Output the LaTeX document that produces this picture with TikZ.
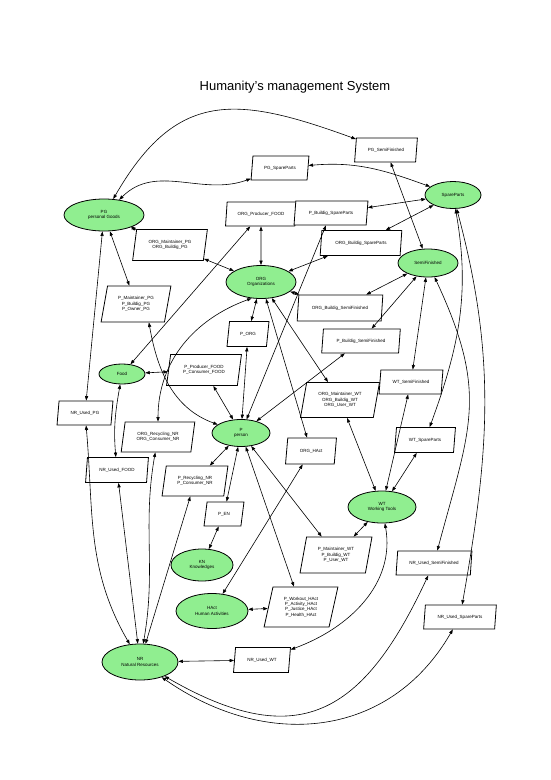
\documentclass[tikz,border=0pt]{standalone}
\usepackage{fontspec}
\setmainfont{Liberation Sans}
\usetikzlibrary{shapes, arrows.meta, positioning}
\definecolor{entgreen}{RGB}{144,238,144}
\tikzstyle{entity} = [draw, fill=entgreen, ellipse, line width=0.8pt, inner sep=0pt, align=center, font=\fontsize{4.5}{5.4}\selectfont]
\tikzstyle{relation} = [draw, fill=white, trapezium, trapezium left angle=75, trapezium right angle=105, trapezium stretches=true, line width=0.8pt, inner sep=0pt, align=center, font=\fontsize{4.5}{5.4}\selectfont]
\tikzstyle{link} = [{Triangle[length=4.5pt,width=3.2pt]}-{Triangle[length=4.5pt,width=3.2pt]}, line width=0.6pt]

\begin{document}
\begin{tikzpicture}[x=1pt, y=-1pt]
	\fill[white] (0,0) rectangle (551,780);
	\useasboundingbox (0,0) rectangle (551,780);
	\node[font=\fontsize{13}{15}\selectfont] (title) at (295,87) {Humanity's management System};
	% entities
	\node [entity, minimum width=80, minimum height=32] (PG) at (104,215) {PG\\personal Goods};
	\node [entity, minimum width=56, minimum height=27] (SP) at (453,195) {SpareParts};
	\node [entity, minimum width=60, minimum height=28] (SF) at (428,263) {SemiFinished};
	\node [entity, minimum width=70, minimum height=33] (ORG) at (261,282) {ORG\\Organizations};
	\node [entity, minimum width=46, minimum height=20] (FOOD) at (122,374) {Food};
	\node [entity, minimum width=58, minimum height=27] (P) at (241,433) {P\\person};
	\node [entity, minimum width=68, minimum height=32] (WT) at (382,507) {WT\\Working Tools};
	\node [entity, minimum width=62, minimum height=32] (KN) at (202,565) {KN\\Knowledges};
	\node [entity, minimum width=72, minimum height=35] (HACT) at (212,611) {HAct\\Human Activities};
	\node [entity, minimum width=76, minimum height=36] (NR) at (140,662) {NR\\Natural Resources};
	% relations
	\node [relation, minimum width=63, minimum height=24] (pgsf) at (386,150) {PG\_SemiFinished};
	\node [relation, minimum width=58, minimum height=24] (pgsp) at (280,168) {PG\_SpareParts};
	\node [relation, minimum width=71, minimum height=24] (orgfood) at (261,214) {ORG\_Producer\_FOOD};
	\node [relation, minimum width=74, minimum height=24] (pbsp) at (331,213) {P\_Buildig\_SpareParts};
	\node [relation, minimum width=75, minimum height=31] (orgpg) at (170,245) {ORG\_Maintainer\_PG\\ORG\_Buildig\_PG};
	\node [relation, minimum width=82, minimum height=25] (orgbsp) at (361,243) {ORG\_Buildig\_SpareParts};
	\node [relation, minimum width=70, minimum height=36] (ppg) at (136,304) {P\_Maintainer\_PG\\P\_Buildig\_PG\\P\_Owner\_PG};
	\node [relation, minimum width=86, minimum height=26] (orgbsf) at (340,308) {ORG\_Buildig\_SemiFinished};
	\node [relation, minimum width=79, minimum height=24] (pbsf) at (361,341) {P\_Buildig\_SemiFinished};
	\node [relation, minimum width=42, minimum height=25] (porg) at (248,334) {P\_ORG};
	\node [relation, minimum width=75, minimum height=31] (pfood) at (204,370) {P\_Producer\_FOOD\\P\_Consumer\_FOOD};
	\node [relation, minimum width=56, minimum height=24] (nrpg) at (85,413) {NR\_Used\_PG};
	\node [relation, minimum width=74, minimum height=30] (orgnr) at (158,437) {ORG\_Recycling\_NR\\ORG\_Consumer\_NR};
	\node [relation, minimum width=63, minimum height=25] (nrfood) at (117,470) {NR\_Used\_FOOD};
	\node [relation, minimum width=66, minimum height=30] (pnr) at (195,481) {P\_Recycling\_NR\\P\_Consumer\_NR};
	\node [relation, minimum width=79, minimum height=35] (orgwt) at (340,400) {ORG\_Maintainer\_WT\\ORG\_Buildig\_WT\\ORG\_User\_WT};
	\node [relation, minimum width=64, minimum height=24] (wtsf) at (411,382) {WT\_SemiFinished};
	\node [relation, minimum width=61, minimum height=25] (wtsp) at (425,440) {WT\_SpareParts};
	\node [relation, minimum width=51, minimum height=26] (orghact) at (311,451) {ORG\_HAct};
	\node [relation, minimum width=40, minimum height=24] (pen) at (224,514) {P\_EN};
	\node [relation, minimum width=72, minimum height=36] (pwt) at (336,555) {P\_Maintainer\_WT\\P\_Buildig\_WT\\P\_User\_WT};
	\node [relation, minimum width=76, minimum height=24] (nrsf) at (434,563) {NR\_Used\_SemiFinished};
	\node [relation, minimum width=73, minimum height=24] (nrsp) at (460,617) {NR\_Used\_SpareParts};
	\node [relation, minimum width=74, minimum height=40] (phact) at (301,607) {P\_Workout\_HAct\\P\_Activity\_HAct\\P\_Justice\_HAct\\P\_Health\_HAct};
	\node [relation, minimum width=57, minimum height=25] (nrwt) at (262,660) {NR\_Used\_WT};
	% connectors
	\draw [link] (PG) to[out=60, in=160, looseness=1.3] (pgsf);
	\draw [link] (PG) to[out=45, in=200] (pgsp);
	\draw [link] (pgsp) to[out=5, in=160] (SP);
	\draw [link] (pgsf) -- (SF);
	\draw [link] (orgfood) -- (ORG);
	\draw [link] (FOOD) -- (orgfood);
	\draw [link] (PG) -- (orgpg);
	\draw [link] (orgpg) -- (ORG);
	\draw [link] (PG) -- (ppg);
	\draw [link] (ppg.-55) to[out=-80, in=160] (P);
	\draw [link] (ORG.240) to[out=200, in=90] (orgnr);
	\draw [link] (P) -- (pbsp);
	\draw [link] (pbsp) -- (SP);
	\draw [link] (orgbsp) -- (ORG);
	\draw [link] (orgbsp) -- (SP);
	\draw [link] (ORG) -- (orgbsf);
	\draw [link] (orgbsf) -- (SF);
	\draw [link] (P) -- (pbsf);
	\draw [link] (pbsf) -- (SF);
	\draw [link] (porg) -- (ORG);
	\draw [link] (P) -- (porg);
	\draw [link] (FOOD) -- (pfood);
	\draw [link] (pfood) -- (P);
	\draw [link] (PG) -- (nrpg);
	\draw [link] (nrpg) to[out=-85, in=120] (NR);
	\draw [link] (FOOD) to[out=-100, in=95] (nrfood);
	\draw [link] (nrfood) -- (NR);
	\draw [link] (orgnr) to[out=-100, in=80] (NR);
	\draw [link] (P) -- (pnr);
	\draw [link] (pnr) -- (NR);
	\draw [link] (ORG) -- (orgwt);
	\draw [link] (orgwt) -- (WT);
	\draw [link] (SF) -- (wtsf);
	\draw [link] (wtsf) -- (WT);
	\draw [link] (SP) to[out=-80, in=70] (wtsp);
	\draw [link] (wtsp) -- (WT);
	\draw [link] (ORG) -- (orghact);
	\draw [link] (orghact) -- (HACT);
	\draw [link] (P) -- (pen);
	\draw [link] (pen) -- (KN);
	\draw [link] (P) -- (pwt);
	\draw [link] (pwt) -- (WT);
	\draw [link] (P) -- (phact);
	\draw [link] (HACT) -- (phact);
	\draw [link] (SF) to[out=-65, in=75, looseness=1.2] (nrsf);
	\draw [link] (SP) to[out=-75, in=80] (nrsp);
	\draw [link] (NR) to[out=-30, in=-115, looseness=1.4] (nrsf);
	\draw [link] (NR) to[out=-35, in=-120, looseness=1.1] (nrsp);
	\draw [link] (NR) -- (nrwt);
	\draw [link] (nrwt) to[out=20, in=-80] (WT);
\end{tikzpicture}
\end{document}
